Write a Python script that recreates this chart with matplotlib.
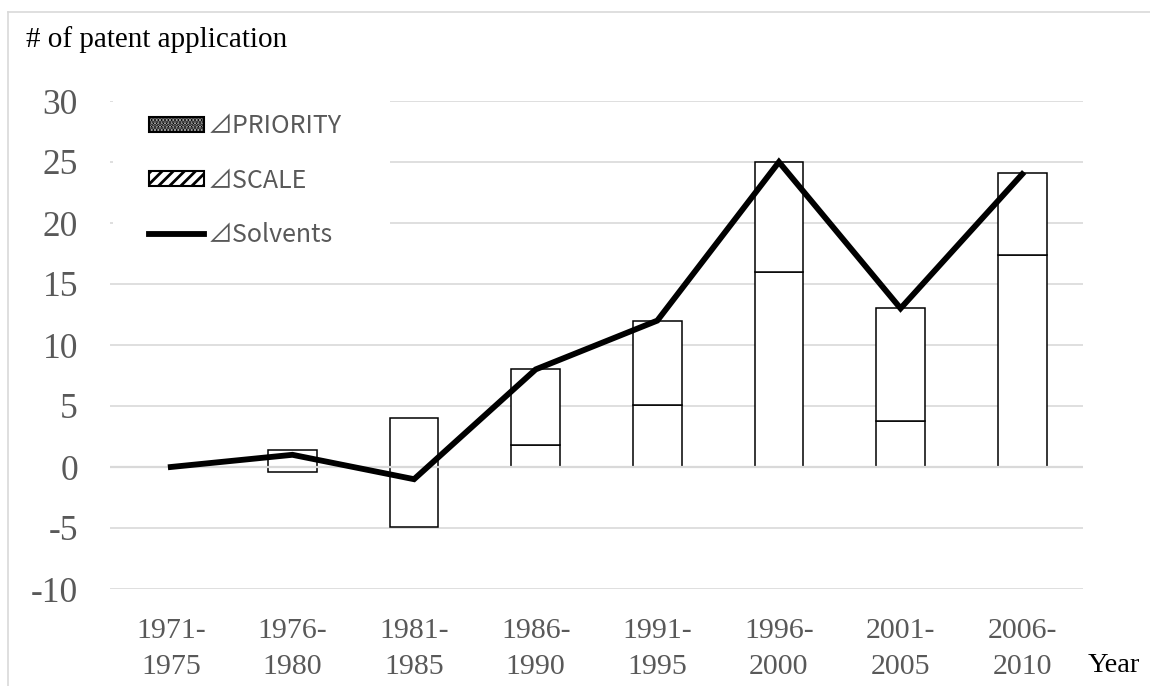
import matplotlib
matplotlib.use('Agg')
import matplotlib.pyplot as plt
import matplotlib.patches as mpatches
from matplotlib.lines import Line2D
import numpy as np

plt.rcParams['hatch.linewidth'] = 2.0

# データ
periods = ['1971-\n1975', '1976-\n1980', '1981-\n1985', '1986-\n1990',
           '1991-\n1995', '1996-\n2000', '2001-\n2005', '2006-\n2010']
priority = [0, 1.4, 4.0, 1.8, 5.1, 16.0, 3.8, 17.4]
scale = [0, -0.4, -4.9, 6.2, 6.9, 9.0, 9.2, 6.7]
solvents = [0, 1, -1, 8, 12, 25, 13, 24]
yticks = [-10, -5, 0, 5, 10, 15, 20, 25, 30]

serif = ['Liberation Serif', 'DejaVu Serif']
legend_font = ['Noto Sans CJK JP', 'DejaVu Sans']
tick_grey = '#595959'
grid_grey = '#d9d9d9'

fig = plt.figure(figsize=(11.5, 6.86), dpi=100)
ax = fig.add_axes([110 / 1150, 1 - 589 / 686, 973 / 1150, 488 / 686])

x = np.arange(len(periods))
w = 0.40

# 積み上げ（負の値は0から下へ）、0の棒は描かない
pri = np.array(priority)
sca = np.array(scale)
sca_bottom = np.where(np.sign(sca) == np.sign(pri), pri, 0)
nz = (pri != 0) | (sca != 0)

ax.bar(x[nz], pri[nz], w, facecolor='white', edgecolor='black', linewidth=1.1, zorder=2)
ax.bar(x[nz], sca[nz], w, bottom=sca_bottom[nz], facecolor='white', edgecolor='black',
       linewidth=1.1, zorder=2)
# 横軸（0の線）は棒の上に描かれる
ax.axhline(0, color=grid_grey, lw=1.6, zorder=2.5)
ax.plot(x, solvents, color='black', lw=4.2, zorder=3, solid_joinstyle='miter')

ax.set_xlim(-0.5, len(periods) - 0.5)
ax.set_ylim(-10, 30)
ax.set_yticks(yticks)
ax.set_xticks(x)
ax.set_xticklabels(periods, fontsize=21.5, family=serif, color=tick_grey,
                   linespacing=1.5)
ax.set_yticklabels([str(v) for v in yticks], fontsize=25.5, family=serif,
                   color=tick_grey)
ax.tick_params(axis='x', length=0, pad=21)
ax.tick_params(axis='y', length=0, pad=23)
ax.yaxis.grid(True, color=grid_grey, lw=1.2, zorder=0)
ax.set_axisbelow(True)
for s in ax.spines.values():
    s.set_visible(False)

# 凡例の白い背景（グリッド線を隠す）
ax.add_patch(mpatches.Rectangle((113 / 1150, 1 - 262 / 686), 277 / 1150, 170 / 686,
                                transform=fig.transFigure, facecolor='white',
                                edgecolor='none', zorder=1, clip_on=False))

# 凡例
handles = [
    mpatches.Patch(facecolor='#c8c8c8', edgecolor='black', hatch='.....', lw=1.5),
    mpatches.Patch(facecolor='white', edgecolor='black', hatch='///', lw=1.5),
    Line2D([0], [0], color='black', lw=4.2),
]
labels = ['⊿PRIORITY', '⊿SCALE', '⊿Solvents']
leg = ax.legend(handles, labels, loc='upper left',
                bbox_to_anchor=(129 / 1150, 1 - 93 / 686),
                bbox_transform=fig.transFigure,
                prop={'family': legend_font, 'size': 18},
                frameon=False, handlelength=2.2, handleheight=0.55,
                handletextpad=0.15, labelspacing=1.15, borderpad=0.3)
leg.set_zorder(5)
for t in leg.get_texts():
    t.set_color(tick_grey)

# タイトル・軸ラベル
fig.text(26 / 1150, 1 - 40 / 686, '# of patent application', fontsize=21,
         family=serif, color='black', va='center', ha='left')
fig.text(1088 / 1150, 1 - 666 / 686, 'Year', fontsize=20.5, family=serif,
         color='black', va='center', ha='left')

# 外枠
fig.add_artist(Line2D([8 / 1150, 8 / 1150], [0, 1 - 12 / 686],
                      transform=fig.transFigure, color=grid_grey, lw=1.2))
fig.add_artist(Line2D([8 / 1150, 1], [1 - 12 / 686, 1 - 12 / 686],
                      transform=fig.transFigure, color=grid_grey, lw=1.2))

fig.savefig('out.png', dpi=100, facecolor='white')
